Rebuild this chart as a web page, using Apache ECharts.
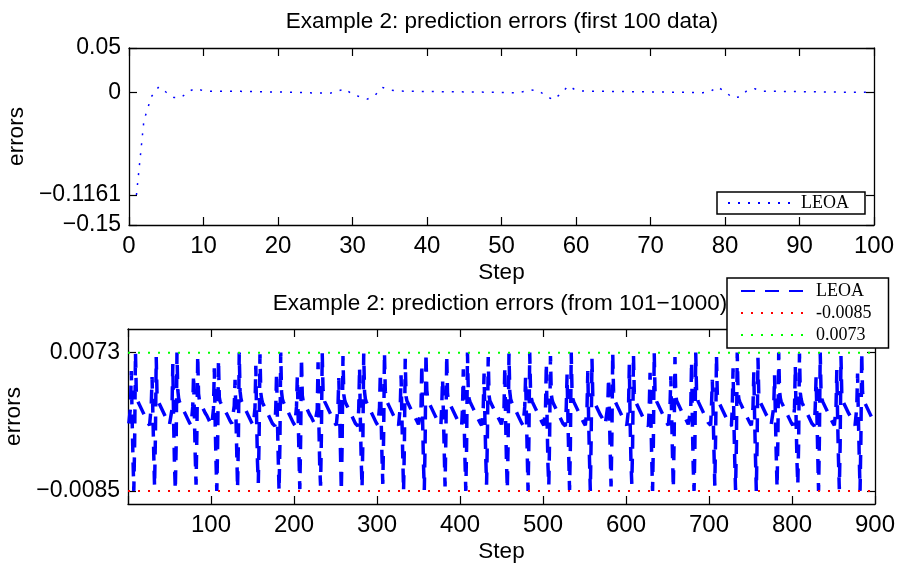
<!DOCTYPE html>
<html><head><meta charset="utf-8">
<script src="https://cdn.jsdelivr.net/npm/echarts@6/dist/echarts.min.js"></script>
<style>html,body{margin:0;padding:0;background:#fff}#c{width:897px;height:566px}</style>
</head><body><div id="c"></div>
<script>
// ---- data ----
const topTitle = 'Example 2: prediction errors (first 100 data)';
const bottomTitle = 'Example 2: prediction errors (from 101\u22121000)';
const topYTicks = [-0.15, -0.1161, 0, 0.05];
const bottomYTicks = [-0.0085, 0.0073];
const lowerBound = -0.0085;
const upperBound = 0.0073;
// errors for steps 1..100
const topErrors = [
 -0.1161,-0.032,-0.005,0.0062,0.0000,-0.0058,-0.0060,0.0012,0.0042,0.0016,
 0.0012,0.0011,0.0011,0.0010,0.0010,0.0009,0.0008,0.0006,0.0004,0.0003,
 0.0001,0.0000,-0.0003,-0.0006,-0.0008,-0.0009,-0.0010,0.0012,0.0040,-0.0025,
 -0.0050,-0.0077,-0.0036,0.0055,0.0025,0.0015,0.0012,0.0011,0.0010,0.0009,
 0.0008,0.0007,0.0006,0.0005,0.0004,0.0003,0.0002,0.0001,0.0000,-0.0002,
 -0.0004,-0.0006,0.0008,0.0025,0.0018,-0.0045,-0.0085,-0.0012,0.0073,0.0022,
 0.0013,0.0012,0.0011,0.0010,0.0009,0.0008,0.0007,0.0006,0.0005,0.0004,
 0.0003,0.0002,0.0001,0.0000,-0.0002,-0.0004,-0.0005,0.0006,0.0060,0.0008,
 -0.0062,-0.0052,0.0022,0.0040,0.0012,0.0011,0.0010,0.0009,0.0008,0.0007,
 0.0006,0.0005,0.0004,0.0003,0.0002,0.0001,0.0000,0.0000,0.0000,0.0000
];
// errors for steps 101..1000 (plotted as 1..900), in units of 1e-4, 25 steps per row
const bottomErrorsE4 = [
 [-8,-9,10,52,-4,-48,-85,-30,73,28,20,17,15,13,11,9,7,5,3,1,-1,-3,-5,-7,-9],
 [-10,-10,12,45,2,-42,-80,-25,68,24,18,16,14,12,10,8,6,4,2,0,-2,-4,-6,-8,-9],
 [-10,-11,8,60,-8,-55,-84,-35,73,30,21,17,15,13,11,9,7,5,3,1,-1,-3,-5,-7,-9],
 [-10,-10,11,48,0,-45,-78,-20,70,26,19,16,14,12,10,8,6,4,2,1,-1,-3,-5,-7,-9],
 [-10,-10,9,55,-6,-50,-85,-32,65,22,17,15,13,11,10,8,6,4,3,1,-1,-3,-5,-7,-8],
 [-9,-10,12,42,3,-40,-82,-28,73,29,21,17,15,13,11,9,7,5,3,1,-1,-3,-5,-7,-9],
 [-10,-10,10,58,-5,-52,-76,-22,71,27,20,16,14,12,10,8,6,4,2,0,-2,-4,-6,-8,-9],
 [-10,-11,9,50,-2,-47,-85,-33,73,28,20,17,15,13,11,9,7,5,3,1,-1,-3,-5,-7,-9],
 [-10,-10,11,46,1,-44,-83,-27,67,24,18,16,14,12,10,8,6,4,2,1,-1,-3,-5,-7,-9],
 [-10,-10,8,62,-9,-57,-79,-24,73,30,21,17,15,13,11,9,7,5,3,1,-1,-3,-5,-7,-9],
 [-10,-10,12,44,2,-41,-85,-31,69,25,19,16,14,12,10,8,6,4,2,0,-2,-4,-6,-8,-9],
 [-10,-11,9,56,-6,-51,-81,-26,72,28,20,17,15,13,11,9,7,5,3,1,-1,-3,-5,-7,-9],
 [-10,-10,10,50,-3,-46,-77,-21,73,29,21,17,15,13,11,9,7,5,3,1,-1,-3,-5,-7,-9],
 [-10,-10,11,47,0,-44,-85,-34,66,23,18,16,14,12,10,8,6,4,2,1,-1,-3,-5,-7,-9],
 [-10,-10,8,60,-7,-54,-84,-29,73,30,21,17,15,13,11,9,7,5,3,1,-1,-3,-5,-7,-9],
 [-9,-10,12,43,3,-40,-80,-23,70,26,19,16,14,12,10,8,6,4,2,0,-2,-4,-6,-8,-9],
 [-10,-11,9,54,-5,-50,-85,-32,73,28,20,17,15,13,11,9,7,5,3,1,-1,-3,-5,-7,-9],
 [-10,-10,10,49,-1,-45,-78,-25,68,24,18,16,14,12,10,8,6,4,2,1,-1,-3,-5,-7,-9],
 [-10,-10,9,57,-6,-52,-83,-30,72,28,20,17,15,13,11,9,7,5,3,1,-1,-3,-5,-7,-9],
 [-10,-10,11,45,2,-42,-85,-28,73,29,21,17,15,13,11,9,7,5,3,1,-1,-3,-5,-7,-9],
 [-10,-10,8,61,-8,-56,-79,-22,69,25,19,16,14,12,10,8,6,4,2,0,-2,-4,-6,-8,-9],
 [-10,-11,10,48,-1,-45,-84,-33,73,28,20,17,15,13,11,9,7,5,3,1,-1,-3,-5,-7,-9],
 [-10,-10,9,52,-4,-48,-85,-27,66,23,18,16,14,12,10,8,6,4,2,1,-1,-3,-5,-7,-9],
 [-10,-10,12,44,2,-41,-80,-24,73,29,21,17,15,13,11,9,7,5,3,1,-1,-3,-5,-7,-9],
 [-10,-10,8,59,-7,-53,-77,-31,71,27,20,16,14,12,10,8,6,4,2,0,-2,-4,-6,-8,-9],
 [-10,-11,10,50,-2,-47,-85,-29,73,28,20,17,15,13,11,9,7,5,3,1,-1,-3,-5,-7,-9],
 [-10,-10,11,46,1,-43,-82,-26,68,24,18,16,14,12,10,8,6,4,2,1,-1,-3,-5,-7,-9],
 [-10,-10,8,63,-9,-58,-85,-35,73,30,21,17,15,13,11,9,7,5,3,1,-1,-3,-5,-7,-9],
 [-9,-10,12,42,3,-40,-79,-21,70,26,19,16,14,12,10,8,6,4,2,0,-2,-4,-6,-8,-9],
 [-10,-11,9,55,-5,-50,-84,-32,73,28,20,17,15,13,11,9,7,5,3,1,-1,-3,-5,-7,-9],
 [-10,-10,10,51,-3,-47,-85,-28,67,24,18,16,14,12,10,8,6,4,2,1,-1,-3,-5,-7,-9],
 [-10,-10,11,47,0,-44,-81,-25,73,29,21,17,15,13,11,9,7,5,3,1,-1,-3,-5,-7,-9],
 [-10,-10,9,58,-6,-52,-78,-30,72,27,20,16,14,12,10,8,6,4,2,0,-2,-4,-6,-8,-9],
 [-10,-11,11,45,2,-42,-85,-27,73,28,20,17,15,13,11,9,7,5,3,1,-1,-3,-5,-7,-9],
 [-10,-10,9,53,-4,-49,-83,-33,69,25,19,16,14,12,10,8,6,4,2,1,-1,-3,-5,-7,-9],
 [-10,-10,10,49,-1,-45,-85,-26,73,28,20,17,15,13,11,9,7,5,3,1,-1,-3,-5,-7,-9]
];

// ---- build series data ----
const topData = topErrors.map((v, i) => [i + 1, v]);
const bottomData = [];
bottomErrorsE4.forEach(row => row.forEach(v => bottomData.push([bottomData.length + 1, v / 10000])));
const lowData = [[0, lowerBound], [900, lowerBound]];
const highData = [[0, upperBound], [900, upperBound]];

const SANS = 'Liberation Sans';
const SERIF = 'Liberation Serif';
const FS = 22.5;   // titles, axis names
const TFS = 24;    // x tick labels
const YFS = 23;    // y tick labels
const fmt = v => (v < 0 ? '\u2212' + String(Math.abs(v)) : String(v));
const lineBlack = { show: true, onZero: false, lineStyle: { color: '#000', width: 1.3 } };
const tickIn = (extra) => Object.assign({ show: true, inside: true, length: 8, lineStyle: { color: '#000', width: 1.2 } }, extra || {});
const lbl = (extra) => Object.assign({ color: '#000', fontFamily: SANS, fontSize: TFS, margin: 9 }, extra || {});
const noSymbol = { color: 'rgba(0,0,0,0)', borderColor: 'rgba(0,0,0,0)', borderWidth: 0 };

const chart = echarts.init(document.getElementById('c'), null, { renderer: 'canvas' });
chart.setOption({
  animation: false,
  backgroundColor: '#fff',
  title: [
    { text: topTitle, left: 502, top: 10, textAlign: 'center', padding: 0,
      textStyle: { fontFamily: SANS, fontSize: FS, fontWeight: 'normal', color: '#000' } },
    { text: bottomTitle, left: 500, top: 292, textAlign: 'center', padding: 0,
      textStyle: { fontFamily: SANS, fontSize: FS, fontWeight: 'normal', color: '#000' } }
  ],
  legend: [
    { data: ['LEOA'], left: 717, top: 192, orient: 'horizontal',
      itemWidth: 63, itemHeight: 14, padding: [2, 16, 2, 10],
      borderColor: '#000', borderWidth: 1.5, backgroundColor: '#fff', borderRadius: 0,
      itemStyle: noSymbol,
      textStyle: { fontFamily: SERIF, fontSize: 18, color: '#000', padding: [0, 0, 0, 5] },
      formatter: n => n.trim(), selectedMode: false },
    { data: ['LEOA ', '-0.0085', '0.0073'], left: 727, top: 278, orient: 'vertical',
      itemWidth: 67, itemHeight: 14, itemGap: 4, padding: [4, 17, 4, 13],
      borderColor: '#000', borderWidth: 1.5, backgroundColor: '#fff', borderRadius: 0,
      itemStyle: noSymbol,
      textStyle: { fontFamily: SERIF, fontSize: 18, color: '#000', padding: [0, 0, 0, 3] },
      formatter: n => n.trim(), selectedMode: false, z: 10 }
  ],
  grid: [
    { left: 129, right: 23, top: 48, height: 177, containLabel: false, outerBoundsMode: 'none' },
    { left: 128, right: 22, top: 329, height: 175, containLabel: false, outerBoundsMode: 'none' }
  ],
  xAxis: [
    { type: 'value', gridIndex: 0, min: 0, max: 100, interval: 10, position: 'bottom',
      axisLine: lineBlack, axisTick: tickIn(), splitLine: { show: false },
      axisLabel: lbl(), name: 'Step', nameLocation: 'middle', nameGap: 36,
      nameTextStyle: { fontFamily: SANS, fontSize: FS, color: '#000' } },
    { type: 'value', gridIndex: 0, min: 0, max: 100, interval: 10, position: 'top',
      axisLine: lineBlack, axisTick: tickIn(), splitLine: { show: false }, axisLabel: { show: false } },
    { type: 'value', gridIndex: 1, min: 0, max: 900, interval: 100, position: 'bottom',
      axisLine: lineBlack, axisTick: tickIn(), splitLine: { show: false },
      axisLabel: lbl({ formatter: v => (v === 0 ? '' : String(v)) }),
      name: 'Step', nameLocation: 'middle', nameGap: 36,
      nameTextStyle: { fontFamily: SANS, fontSize: FS, color: '#000' } },
    { type: 'value', gridIndex: 1, min: 0, max: 900, interval: 100, position: 'top',
      axisLine: lineBlack, axisTick: tickIn(), splitLine: { show: false }, axisLabel: { show: false } }
  ],
  yAxis: [
    { type: 'value', gridIndex: 0, min: -0.15, max: 0.05, position: 'left',
      axisLine: lineBlack, axisTick: tickIn({ customValues: topYTicks }), splitLine: { show: false },
      axisLabel: lbl({ customValues: topYTicks, formatter: fmt, margin: 8, fontSize: YFS }),
      name: 'errors', nameLocation: 'middle', nameGap: 97, nameRotate: 90,
      nameTextStyle: { fontFamily: SANS, fontSize: FS, color: '#000' } },
    { type: 'value', gridIndex: 0, min: -0.15, max: 0.05, position: 'right',
      axisLine: lineBlack, axisTick: tickIn({ customValues: topYTicks }), splitLine: { show: false },
      axisLabel: { show: false } },
    { type: 'value', gridIndex: 1, min: -0.01, max: 0.01, position: 'left',
      axisLine: lineBlack, axisTick: tickIn({ customValues: bottomYTicks }), splitLine: { show: false },
      axisLabel: lbl({ customValues: bottomYTicks, formatter: fmt, margin: 8, fontSize: YFS }),
      name: 'errors', nameLocation: 'middle', nameGap: 97, nameRotate: 90,
      nameTextStyle: { fontFamily: SANS, fontSize: FS, color: '#000' } },
    { type: 'value', gridIndex: 1, min: -0.01, max: 0.01, position: 'right',
      axisLine: lineBlack, axisTick: tickIn({ customValues: bottomYTicks }), splitLine: { show: false },
      axisLabel: { show: false } }
  ],
  series: [
    { name: 'LEOA', type: 'line', xAxisIndex: 0, yAxisIndex: 0, data: topData,
      symbol: 'none', smooth: false,
      lineStyle: { color: '#0000ff', width: 1.5, type: [2, 8] }, itemStyle: { color: '#0000ff' } },
    { name: 'LEOA ', type: 'line', xAxisIndex: 2, yAxisIndex: 2, data: bottomData,
      symbol: 'none', smooth: false,
      lineStyle: { color: '#0000ff', width: 3.5, type: [14, 10] }, itemStyle: { color: '#0000ff' } },
    { name: '-0.0085', type: 'line', xAxisIndex: 2, yAxisIndex: 2, data: lowData,
      symbol: 'none', lineStyle: { color: '#ff0000', width: 2, type: [2, 8] }, itemStyle: { color: '#ff0000' } },
    { name: '0.0073', type: 'line', xAxisIndex: 2, yAxisIndex: 2, data: highData,
      symbol: 'none', lineStyle: { color: '#00ff00', width: 2, type: [2, 8] }, itemStyle: { color: '#00ff00' } }
  ]
});
</script>
</body></html>
